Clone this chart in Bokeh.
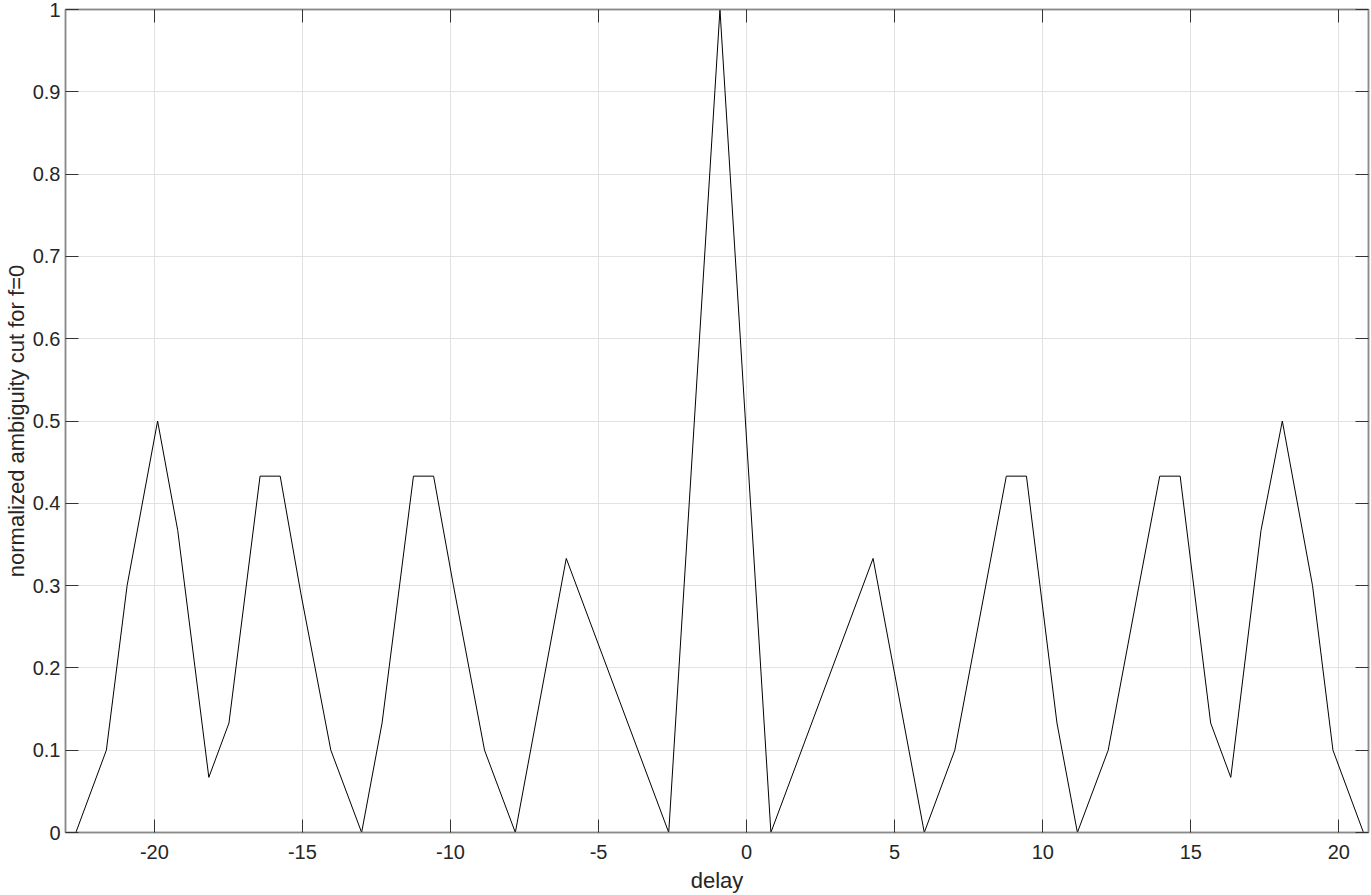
from bokeh.plotting import figure
from bokeh.models import (Range1d, LinearAxis, SingleIntervalTicker, NumeralTickFormatter,
                          CustomJSTickFormatter)
from bokeh.embed import file_html
from bokeh.resources import INLINE

# delay values (vertices of the plotted curve)
delay = [-22.65, -21.62, -20.92, -19.89, -19.21, -18.16, -17.48, -16.43, -15.75, -15.05,
         -14.04, -13.00, -12.31, -11.25, -10.57, -9.90, -8.85, -7.81, -6.09, -2.63,
         -0.90, 0.82, 4.27, 6.00, 7.03, 8.77, 9.45, 10.48, 11.17, 12.21,
         13.25, 13.95, 14.64, 15.67, 16.35, 17.37, 18.09, 19.11, 19.80, 20.83]
# normalized ambiguity cut for f=0
ambiguity = [0.0, 0.1, 0.3, 0.5, 0.367, 0.067, 0.133, 0.433, 0.433, 0.29,
             0.1, 0.0, 0.133, 0.433, 0.433, 0.3, 0.1, 0.0, 0.333, 0.0,
             1.0, 0.0, 0.333, 0.0, 0.1, 0.433, 0.433, 0.133, 0.0, 0.1,
             0.3, 0.433, 0.433, 0.133, 0.067, 0.367, 0.5, 0.3, 0.1, 0.0]

x_limits = (-23, 21)
y_limits = (0, 1)
x_tick_step = 5
y_tick_step = 0.1

FONT = "Liberation Sans"
TXT = "#262626"
AX = "#8a8a8a"
GRID = "#e2e2e2"

p = figure(width=1371, height=895, output_backend="svg", toolbar_location=None,
           x_range=Range1d(*x_limits), y_range=Range1d(*y_limits),
           min_border_left=0, min_border_right=3, min_border_top=9, min_border_bottom=0)

p.line(delay, ambiguity, line_color="black", line_width=1)

p.outline_line_color = AX
p.outline_line_width = 1.5
p.background_fill_color = "white"
p.border_fill_color = "white"

xt = SingleIntervalTicker(interval=x_tick_step, num_minor_ticks=0)
yt = SingleIntervalTicker(interval=y_tick_step, num_minor_ticks=0)

for ax in p.xaxis:
    ax.ticker = xt
    ax.formatter = NumeralTickFormatter(format="0")
for ax in p.yaxis:
    ax.ticker = yt
    ax.formatter = NumeralTickFormatter(format="0.[0]")

for ax in list(p.xaxis) + list(p.yaxis):
    ax.axis_line_color = AX
    ax.axis_line_width = 1.5
    ax.major_tick_in = 13
    ax.major_tick_out = 0
    ax.major_tick_line_color = "#333333"
    ax.minor_tick_line_color = None
    ax.major_label_text_font = FONT
    ax.major_label_text_font_size = "20px"
    ax.major_label_text_color = TXT
    ax.axis_label_text_font = FONT
    ax.axis_label_text_font_size = "22px"
    ax.axis_label_text_font_style = "normal"
    ax.axis_label_text_color = TXT

p.xaxis.axis_label = "delay"
p.xaxis.major_label_standoff = 12
p.xaxis.axis_label_standoff = 6
p.yaxis.axis_label = "normalized ambiguity cut for f=0"
p.yaxis.major_label_standoff = 5
p.yaxis.axis_label_standoff = 1

# box ticks on top and right (no labels)
blank = CustomJSTickFormatter(code="return '';")
top = LinearAxis(ticker=SingleIntervalTicker(interval=x_tick_step, num_minor_ticks=0),
                 formatter=blank)
right = LinearAxis(ticker=SingleIntervalTicker(interval=y_tick_step, num_minor_ticks=0),
                   formatter=blank)
for ax in (top, right):
    ax.axis_line_color = AX
    ax.axis_line_width = 1.5
    ax.major_tick_in = 13
    ax.major_tick_out = 0
    ax.major_tick_line_color = "#333333"
    ax.minor_tick_line_color = None
    ax.major_label_text_font_size = "1px"
    ax.major_label_standoff = 0
p.add_layout(top, "above")
p.add_layout(right, "right")

p.xgrid.grid_line_color = GRID
p.ygrid.grid_line_color = GRID
p.xgrid.ticker = xt
p.ygrid.ticker = yt

open("out.html", "w").write(file_html(p, INLINE))
